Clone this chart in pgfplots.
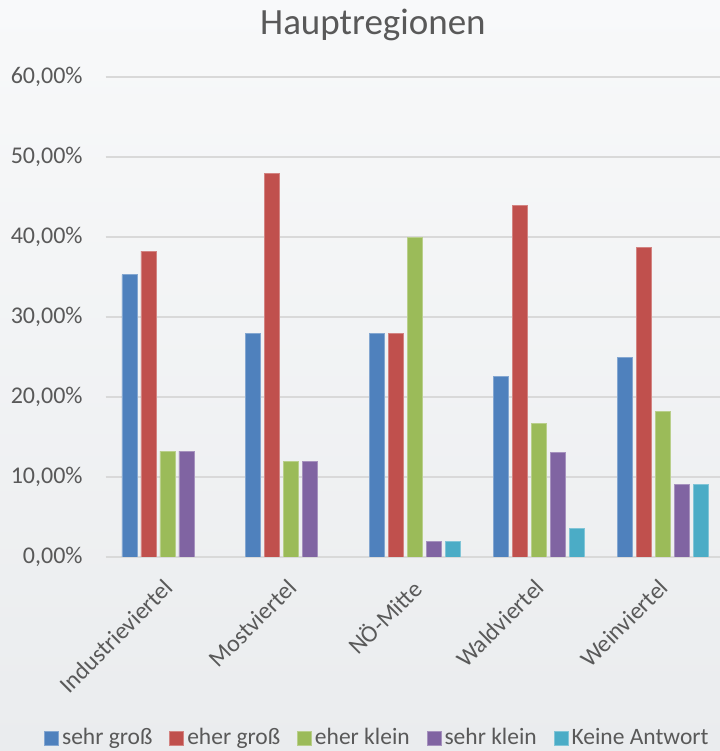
\documentclass[border=0pt]{standalone}
\usepackage{pgfplots}
\pgfplotsset{compat=1.18}
\usepackage{fontspec}
\setmainfont{Carlito}
\definecolor{cBlue}{RGB}{79,129,189}
\definecolor{cRed}{RGB}{192,80,77}
\definecolor{cGreen}{RGB}{155,187,89}
\definecolor{cPurple}{RGB}{128,100,162}
\definecolor{cCyan}{RGB}{75,172,198}
\definecolor{txt}{RGB}{89,89,89}
\definecolor{gridc}{RGB}{217,217,217}
\definecolor{bgTop}{RGB}{248,249,250}
\definecolor{bgBot}{RGB}{234,236,238}
\begin{document}
\begin{tikzpicture}[font=\fontsize{12bp}{14bp}\selectfont]
  \shade[top color=bgTop, bottom color=bgBot] (0,0) rectangle (360bp,375.5bp);
  \begin{axis}[
      at={(52.8bp,97bp)}, anchor=south west,
      width=309.4bp, height=240bp, scale only axis,
      xmin=-0.5, xmax=4.5, ymin=0, ymax=60,
      ybar=2bp, bar width=7.5bp,
      xtick={0,1,2,3,4},
      xticklabels={Industrieviertel,Mostviertel,NÖ-Mitte,Waldviertel,Weinviertel},
      ytick={0,10,20,30,40,50,60},
      yticklabels={{0,00\%},{10,00\%},{20,00\%},{30,00\%},{40,00\%},{50,00\%},{60,00\%}},
      major tick length=0pt,
      axis line style={draw=none},
      ymajorgrids, grid style={gridc, line width=0.75bp},
      tick label style={text=txt},
      yticklabel style={xshift=-8bp},
      xticklabel style={rotate=45, anchor=north east, xshift=-5.5bp, yshift=-2bp},
      title={Hauptregionen},
      title style={at={(axis description cs:0.432,1)}, anchor=center, yshift=20bp,
        text=txt, font=\fontsize{18.5bp}{21bp}\selectfont},
      legend columns=5,
      legend style={at={(axis description cs:0.44,-0.377)}, anchor=center,
        draw=none, fill=none, text=txt, font=\fontsize{11.75bp}{14bp}\selectfont,
        nodes={inner xsep=1.5bp, inner ysep=1bp},
        /tikz/every even column/.append style={column sep=7bp}},
      legend image code/.code={\fill[#1] (0bp,-3.5bp) rectangle (7bp,3.5bp);},
      every axis plot/.append style={line width=0.4bp},
    ]
    \addplot[fill=cBlue, draw=cBlue!70!white] coordinates {(0,35.29) (1,28) (2,28) (3,22.6) (4,25)};
    \addplot[fill=cRed, draw=cRed!70!white] coordinates {(0,38.24) (1,48) (2,28) (3,44) (4,38.64)};
    \addplot[fill=cGreen, draw=cGreen!70!white] coordinates {(0,13.24) (1,12) (2,40) (3,16.7) (4,18.18)};
    \addplot[fill=cPurple, draw=cPurple!70!white] coordinates {(0,13.24) (1,12) (2,2) (3,13.1) (4,9.09)};
    \addplot[fill=cCyan, draw=cCyan!70!white] coordinates {(2,2) (3,3.6) (4,9.09)};
    \legend{sehr groß,eher groß,eher klein,sehr klein,Keine Antwort}
  \end{axis}
  \pgfresetboundingbox
  \path[use as bounding box] (0,0) rectangle (360bp,375.5bp);
\end{tikzpicture}
\end{document}
